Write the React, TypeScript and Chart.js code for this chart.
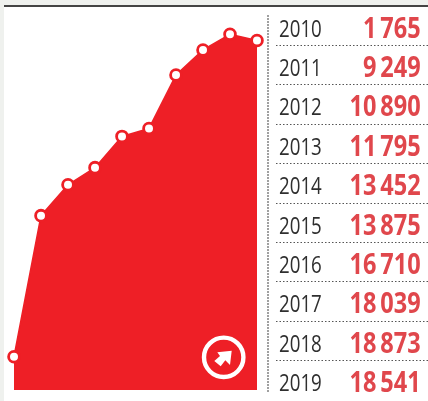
import React, { useEffect, useRef } from "react";
import { Chart, registerables } from "chart.js";

Chart.register(...registerables);

const years = ["2010", "2011", "2012", "2013", "2014", "2015", "2016", "2017", "2018", "2019"];
const values = [1765, 9249, 10890, 11795, 13452, 13875, 16710, 18039, 18873, 18541];
const valueLabels = ["1\u2009765", "9\u2009249", "10\u2009890", "11\u2009795", "13\u2009452", "13\u2009875", "16\u2009710", "18\u2009039", "18\u2009873", "18\u2009541"];

const RED = "#ee1f26";
const ROW_H = 39.4;
const ROW_TOP = 7.5;

export default function App() {
  const ref = useRef<HTMLCanvasElement | null>(null);
  useEffect(() => {
    document.body.style.margin = "0";
    const chart = new Chart(ref.current!, {
      type: "line",
      data: {
        labels: years,
        datasets: [
          {
            data: values,
            borderColor: RED,
            borderWidth: 1.5,
            backgroundColor: RED,
            fill: "origin",
            tension: 0,
            pointRadius: 5.4,
            pointBorderWidth: 2.8,
            pointBackgroundColor: "#ffffff",
            pointBorderColor: RED,
            clip: false as any,
          },
        ],
      },
      options: {
        animation: false,
        responsive: false,
        layout: { padding: { left: 14, right: 171, top: 13, bottom: 11 } },
        plugins: { legend: { display: false }, tooltip: { enabled: false } },
        scales: {
          x: { display: false, offset: false },
          y: { display: false, min: 0, max: 20000 },
        },
      },
    });
    return () => chart.destroy();
  }, []);

  return (
    <div style={{ position: "relative", width: 428, height: 401, background: "#ffffff", overflow: "hidden" }}>
      <div style={{ position: "absolute", left: 0, top: 0, width: 4, height: 401, background: "#eff1ee" }} />
      <div style={{ position: "absolute", left: 0, top: 0, width: 428, height: 5, background: "#eff1ee" }} />
      <div style={{ position: "absolute", left: 4, top: 5, width: 424, height: 2, background: "#444444" }} />
      <canvas ref={ref} width={428} height={401} style={{ position: "absolute", left: 0, top: 0 }} />
      <svg width={428} height={401} style={{ position: "absolute", left: 0, top: 0 }}>
        <circle cx={223.7} cy={357.3} r={19.7} fill="none" stroke="#ffffff" strokeWidth={4.4} />
        <polygon
          points="217.3,352.3 231.7,350.7 230,365 225.3,360.3 220.7,366.3 214.3,361 220,356"
          fill="#ffffff"
        />
        <line x1={268} y1={15} x2={268} y2={392} stroke="#a0a0a0" strokeWidth={2} strokeDasharray="2 1" />
        {years.slice(0, -1).map((y, i) => (
          <line
            key={y}
            x1={276}
            x2={428}
            y1={Math.round(ROW_TOP + 37.5 + i * ROW_H) + 0.5}
            y2={Math.round(ROW_TOP + 37.5 + i * ROW_H) + 0.5}
            stroke="#555555"
            strokeWidth={1}
            strokeDasharray="1.5 2"
          />
        ))}
      </svg>
      {years.map((y, i) => (
        <React.Fragment key={y}>
          <div
            style={{
              position: "absolute",
              left: 279,
              top: ROW_TOP + i * ROW_H,
              height: 39,
              lineHeight: "39px",
              fontFamily: "'Open Sans', sans-serif",
              fontWeight: 500,
              fontSize: 24,
              color: "#2f2f2f",
              transform: "scaleX(0.78)",
              transformOrigin: "left center",
              whiteSpace: "nowrap",
            }}
          >
            {y}
          </div>
          <div
            style={{
              position: "absolute",
              right: 7,
              top: ROW_TOP + i * ROW_H,
              height: 39,
              lineHeight: "39px",
              fontFamily: "'Open Sans', sans-serif",
              fontWeight: 700,
              fontSize: 28,
              color: "#e0474c",
              transform: "scaleX(0.84)",
              transformOrigin: "right center",
              whiteSpace: "nowrap",
            }}
          >
            {valueLabels[i]}
          </div>
        </React.Fragment>
      ))}
    </div>
  );
}
